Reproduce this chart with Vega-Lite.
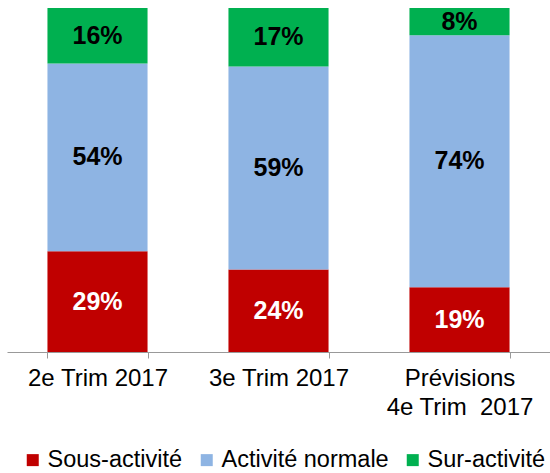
{
  "$schema": "https://vega.github.io/schema/vega-lite/v6.json",
  "width": 543,
  "height": 344,
  "autosize": {"type": "none"},
  "padding": {"left": 7, "top": 8, "right": 0, "bottom": 121},
  "config": {
    "view": {"stroke": null},
    "font": "Liberation Sans"
  },
  "data": {
    "values": [
      {"periode": "2e Trim 2017", "serie": "Sous-activité", "ordre": 1, "valeur": 29},
      {"periode": "2e Trim 2017", "serie": "Activité normale", "ordre": 2, "valeur": 54},
      {"periode": "2e Trim 2017", "serie": "Sur-activité", "ordre": 3, "valeur": 16},
      {"periode": "3e Trim 2017", "serie": "Sous-activité", "ordre": 1, "valeur": 24},
      {"periode": "3e Trim 2017", "serie": "Activité normale", "ordre": 2, "valeur": 59},
      {"periode": "3e Trim 2017", "serie": "Sur-activité", "ordre": 3, "valeur": 17},
      {"periode": "Prévisions|4e Trim \u00a02017", "serie": "Sous-activité", "ordre": 1, "valeur": 19},
      {"periode": "Prévisions|4e Trim \u00a02017", "serie": "Activité normale", "ordre": 2, "valeur": 74},
      {"periode": "Prévisions|4e Trim \u00a02017", "serie": "Sur-activité", "ordre": 3, "valeur": 8}
    ]
  },
  "transform": [
    {"stack": "valeur", "groupby": ["periode"], "sort": [{"field": "ordre"}], "offset": "normalize", "as": ["y0", "y1"]},
    {"calculate": "(datum.y0 + datum.y1) / 2", "as": "ymid"},
    {"calculate": "datum.valeur + '%'", "as": "etiquette"}
  ],
  "encoding": {
    "x": {
      "field": "periode",
      "type": "nominal",
      "sort": null,
      "scale": {"paddingInner": 0.447, "paddingOuter": 0.2235},
      "axis": {
        "title": null,
        "labelAngle": 0,
        "labelExpr": "split(datum.label, '|')",
        "labelFontSize": 24,
        "labelColor": "#000000",
        "labelPadding": 8,
        "labelLineHeight": 29,
        "labelBaseline": "top",
        "tickBand": "extent",
        "tickSize": 6,
        "tickColor": "#999999",
        "domainColor": "#999999",
        "labelLimit": 300
      }
    }
  },
  "layer": [
    {
      "mark": {"type": "bar"},
      "encoding": {
        "y": {"field": "y0", "type": "quantitative", "scale": {"domain": [0, 1]}, "axis": null},
        "y2": {"field": "y1"},
        "color": {
          "field": "serie",
          "type": "nominal",
          "sort": ["Sous-activité", "Activité normale", "Sur-activité"],
          "scale": {
            "domain": ["Sous-activité", "Activité normale", "Sur-activité"],
            "range": ["#C00000", "#8EB4E3", "#00B050"]
          },
          "legend": {
            "title": null,
            "orient": "none",
            "legendX": 14,
            "legendY": 440,
            "direction": "horizontal",
            "symbolType": "square",
            "symbolSize": 144,
            "symbolStrokeWidth": 0,
            "labelFontSize": 23.5,
            "labelOffset": 3,
            "labelColor": "#000000",
            "columnPadding": 12,
            "labelLimit": 300
          }
        }
      }
    },
    {
      "mark": {"type": "text", "fontSize": 25, "fontWeight": "bold", "baseline": "middle"},
      "encoding": {
        "y": {"field": "ymid", "type": "quantitative", "scale": {"domain": [0, 1]}},
        "text": {"field": "etiquette", "type": "nominal"},
        "color": {
          "condition": {"test": "datum.serie === 'Sous-activité'", "value": "#FFFFFF"},
          "value": "#000000"
        }
      }
    }
  ]
}
